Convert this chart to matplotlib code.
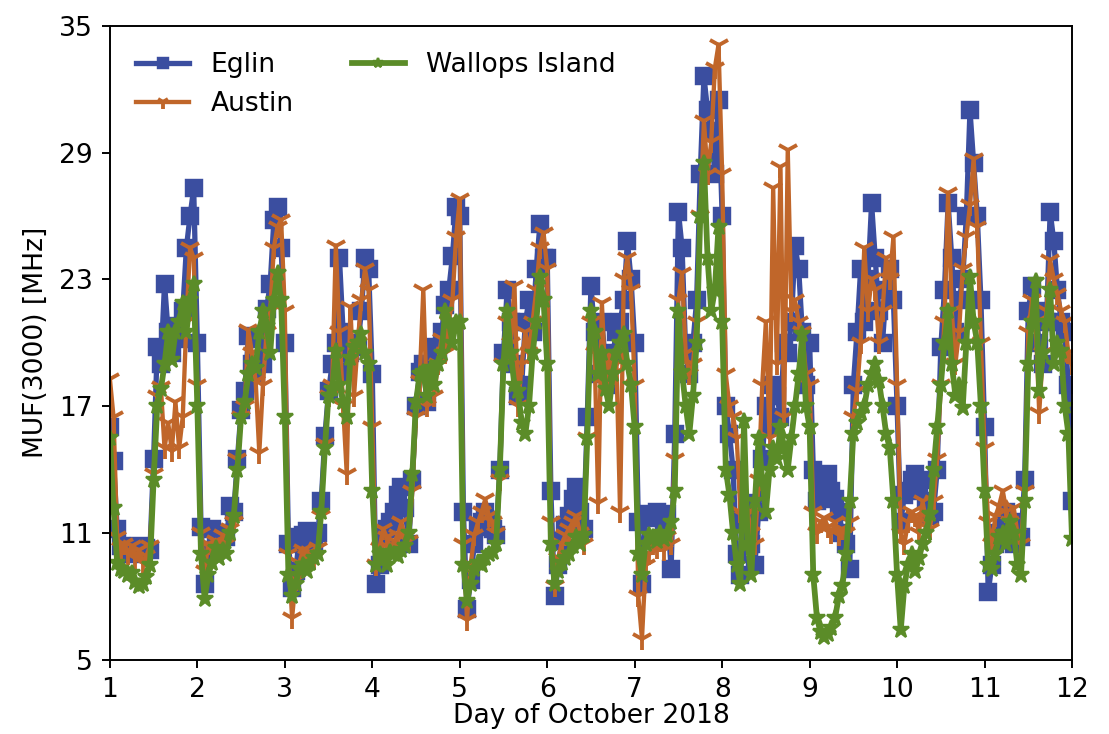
import numpy as np
import matplotlib
matplotlib.use("Agg")
import matplotlib.pyplot as plt

plt.rcParams['font.size'] = 11

# hourly MUF(3000) values [MHz], one row per day (1-11 Oct), last value at 12 Oct 00UT
eglin = [
    16.0, 14.4, 11.2, 10.4, 10.3, 10.0, 10.2, 10.1, 10.4, 10.0, 10.3, 10.2, 14.5, 19.8, 19.0, 22.8, 20.5, 19.5, 20.8, 20.2, 21.5, 24.5, 26.0, 27.3,
    20.0, 11.3, 8.6, 10.2, 11.2, 10.7, 10.6, 11.0, 10.8, 12.3, 12.0, 14.5, 16.8, 17.7, 20.3, 19.0, 18.5, 20.2, 19.0, 21.6, 22.8, 25.8, 26.4, 24.5,
    20.0, 10.5, 8.4, 9.2, 10.8, 10.9, 11.1, 10.4, 10.6, 11.0, 12.5, 15.6, 17.7, 19.0, 20.0, 24.0, 20.5, 18.6, 19.5, 20.0, 19.8, 21.5, 24.0, 23.5,
    18.5, 8.6, 9.5, 10.8, 11.2, 11.5, 12.0, 12.8, 13.2, 12.2, 10.5, 13.5, 17.0, 18.6, 19.0, 17.2, 19.0, 19.8, 19.5, 20.5, 21.8, 22.5, 24.1, 26.4,
    26.0, 12.0, 7.4, 8.8, 10.5, 11.3, 11.5, 12.0, 11.6, 11.2, 10.9, 14.0, 19.5, 22.5, 21.0, 19.0, 17.5, 18.0, 21.0, 22.0, 20.5, 23.5, 25.6, 24.0,
    24.0, 13.0, 8.0, 9.5, 10.6, 11.4, 11.8, 12.6, 13.2, 12.0, 11.2, 16.5, 22.7, 20.5, 18.5, 21.0, 19.0, 18.0, 19.5, 20.5, 21.0, 22.0, 24.8, 23.0,
    20.0, 11.5, 8.6, 11.8, 11.9, 11.7, 12.0, 11.8, 11.5, 11.9, 9.3, 15.7, 26.2, 24.5, 19.5, 18.5, 20.0, 22.0, 28.0, 32.6, 31.0, 30.0, 28.0, 31.5,
    26.0, 17.0, 15.7, 14.0, 10.0, 9.0, 11.5, 12.4, 10.5, 9.5, 12.0, 14.5, 17.0, 16.0, 18.0, 17.5, 16.5, 20.0, 19.5, 21.0, 24.6, 23.5, 20.5, 18.0,
    20.0, 14.0, 12.5, 12.8, 13.5, 13.8, 13.0, 12.6, 12.0, 11.0, 10.5, 9.3, 18.0, 20.5, 23.5, 21.0, 23.0, 26.6, 24.0, 21.5, 20.0, 22.5, 23.5, 22.0,
    17.0, 11.5, 12.8, 13.0, 13.5, 13.8, 13.2, 13.5, 12.5, 11.8, 12.0, 14.0, 19.8, 22.5, 26.6, 24.0, 20.5, 22.0, 23.0, 26.0, 31.0, 28.5, 26.0, 22.0,
    16.0, 8.2, 9.5, 10.5, 11.0, 11.5, 12.0, 11.0, 10.5, 11.5, 10.8, 13.5, 21.5, 22.7, 21.5, 20.0, 19.0, 21.0, 26.2, 24.8, 22.5, 21.0, 20.5, 18.0,
    12.5,
]
austin = [
    18.3, 16.5, 10.8, 10.3, 10.5, 10.0, 10.4, 9.8, 10.2, 9.6, 9.9, 10.4, 13.8, 17.5, 17.9, 15.0, 16.2, 14.9, 17.2, 15.0, 16.5, 21.0, 24.5, 24.0,
    18.0, 11.0, 9.2, 10.5, 10.3, 10.6, 10.2, 10.9, 10.5, 11.2, 11.5, 14.5, 16.5, 17.0, 20.6, 19.5, 18.2, 14.8, 18.0, 20.5, 21.5, 24.5, 25.5, 25.8,
    21.5, 10.0, 7.0, 8.8, 9.6, 10.2, 9.9, 10.1, 9.8, 10.3, 11.8, 15.2, 17.5, 18.0, 24.6, 20.5, 17.0, 13.8, 21.7, 17.5, 20.0, 22.0, 23.5, 22.5,
    16.0, 9.5, 10.3, 11.2, 10.8, 10.3, 10.6, 10.9, 11.5, 10.8, 10.6, 13.0, 16.5, 18.2, 22.5, 17.0, 18.5, 17.5, 19.0, 20.2, 19.5, 21.0, 22.0, 25.0,
    26.8, 10.5, 6.9, 9.5, 10.9, 11.5, 12.0, 12.6, 11.8, 11.5, 11.0, 13.5, 19.0, 21.0, 20.0, 22.7, 17.0, 19.0, 20.5, 19.5, 21.0, 22.5, 24.5, 25.2,
    23.5, 11.5, 8.5, 9.8, 10.5, 10.9, 11.2, 11.5, 11.8, 11.0, 10.5, 15.5, 21.0, 19.5, 12.4, 21.9, 18.0, 19.5, 18.5, 19.0, 12.0, 23.0, 24.0, 22.5,
    18.0, 8.0, 6.0, 9.5, 10.0, 10.5, 10.3, 10.6, 10.2, 10.8, 10.5, 14.5, 22.0, 23.3, 19.5, 18.5, 19.0, 21.0, 26.0, 30.5, 28.0, 29.5, 33.0, 34.1,
    28.0, 18.5, 17.0, 16.5, 15.5, 12.0, 11.8, 12.0, 11.0, 10.5, 13.5, 18.0, 21.0, 15.5, 27.3, 19.0, 28.3, 16.5, 29.1, 21.5, 22.0, 21.0, 20.5, 18.5,
    18.0, 12.0, 11.0, 11.5, 11.7, 11.3, 11.0, 11.5, 10.9, 11.2, 11.0, 11.5, 16.5, 17.7, 20.0, 24.5, 21.5, 23.0, 22.5, 20.0, 21.5, 24.0, 23.0, 25.0,
    18.0, 11.0, 10.5, 11.5, 12.0, 11.8, 11.0, 12.5, 11.5, 11.2, 12.5, 14.5, 18.0, 21.0, 27.1, 21.5, 19.0, 20.5, 23.5, 25.0, 26.5, 28.7, 25.5, 20.0,
    15.0, 11.5, 10.5, 11.8, 12.3, 13.0, 12.0, 11.5, 12.2, 11.0, 10.5, 13.0, 20.5, 22.0, 21.0, 16.7, 19.5, 21.5, 23.9, 23.0, 22.3, 21.5, 21.0, 19.5,
    19.0,
]
wallops = [
    15.5, 12.2, 9.6, 9.3, 9.2, 9.0, 9.1, 8.7, 8.5, 8.6, 8.9, 9.5, 13.5, 17.0, 17.8, 19.0, 20.5, 19.2, 20.5, 21.0, 21.9, 20.5, 22.0, 22.8,
    17.0, 10.0, 7.9, 9.0, 9.6, 10.3, 9.8, 10.2, 10.0, 11.0, 11.8, 14.0, 16.5, 17.2, 18.5, 19.0, 18.8, 20.5, 21.5, 20.8, 19.5, 22.0, 23.3, 22.0,
    16.5, 9.0, 8.0, 8.6, 9.3, 9.5, 9.2, 9.6, 9.8, 10.0, 12.0, 15.0, 17.5, 17.8, 19.6, 18.0, 17.2, 16.5, 19.3, 19.8, 20.0, 20.4, 19.5, 19.0,
    13.0, 9.5, 10.0, 9.8, 9.5, 10.1, 10.0, 9.9, 10.2, 10.4, 11.0, 13.8, 17.2, 18.5, 18.6, 17.5, 18.8, 18.0, 19.0, 19.5, 21.5, 21.0, 20.0, 21.0,
    21.0, 9.5, 7.8, 8.6, 9.3, 9.6, 9.5, 9.8, 10.0, 10.1, 10.5, 14.0, 19.0, 21.5, 19.5, 18.0, 17.7, 16.2, 15.7, 17.0, 19.5, 21.0, 23.1, 22.0,
    19.0, 10.5, 8.6, 9.2, 9.6, 9.8, 10.0, 10.4, 10.8, 10.5, 10.9, 15.5, 21.5, 20.5, 18.5, 19.5, 17.8, 17.0, 18.5, 19.5, 20.0, 20.4, 19.0, 18.0,
    16.0, 10.0, 9.0, 10.5, 10.9, 10.8, 10.6, 11.0, 10.7, 10.9, 11.5, 13.0, 21.5, 18.6, 17.0, 15.7, 17.5, 20.0, 26.0, 28.5, 24.0, 21.5, 22.5, 25.5,
    21.0, 14.0, 12.8, 11.0, 9.5, 8.6, 16.3, 10.5, 9.0, 12.5, 15.5, 13.5, 12.0, 14.0, 15.0, 14.5, 16.0, 15.0, 14.0, 15.5, 17.0, 18.5, 20.4, 17.0,
    16.0, 9.0, 7.0, 6.3, 6.1, 6.2, 6.5, 7.0, 8.0, 8.5, 10.0, 12.5, 15.7, 16.2, 16.7, 17.0, 18.0, 18.5, 19.0, 18.2, 17.0, 15.7, 15.0, 12.5,
    9.0, 6.4, 8.5, 9.5, 10.0, 9.2, 9.8, 10.5, 11.0, 11.9, 14.0, 16.0, 18.0, 20.0, 21.5, 19.0, 17.5, 18.0, 16.9, 20.0, 23.1, 21.0, 20.0, 17.0,
    13.0, 9.5, 9.3, 10.0, 10.8, 11.0, 10.5, 11.5, 11.0, 9.5, 9.0, 12.5, 19.0, 21.0, 22.9, 17.7, 19.5, 21.0, 22.5, 19.0, 20.0, 19.6, 17.0, 15.7,
    10.7,
]

day = 1 + np.arange(len(eglin)) / 24.0

fig = plt.figure(figsize=(6.4, 4.233), dpi=173.4)
ax = fig.add_axes([0.099, 0.101, 0.867, 0.864])

ax.plot(day, eglin, '-s', color='#3b4ea0', lw=2.2, ms=6.5, label='Eglin')
ax.plot(day, austin, '-1', color='#c0662a', lw=1.8, ms=9, mew=1.6, label='Austin')
ax.plot(day, wallops, '-*', color='#5b8c28', lw=2.4, ms=7, label='Wallops Island')

ax.set_xlim(1, 12)
ax.set_ylim(5, 35)
ax.set_xticks(range(1, 13))
ax.set_yticks(range(5, 36, 6))
ax.set_xlabel('Day of October 2018', labelpad=0)
ax.set_ylabel('MUF(3000) [MHz]')
leg = ax.legend(loc='upper left', ncol=2, frameon=False, handlelength=2.0,
                columnspacing=2.2, borderaxespad=0.6, markerscale=0.6)

fig.savefig('out.png')
